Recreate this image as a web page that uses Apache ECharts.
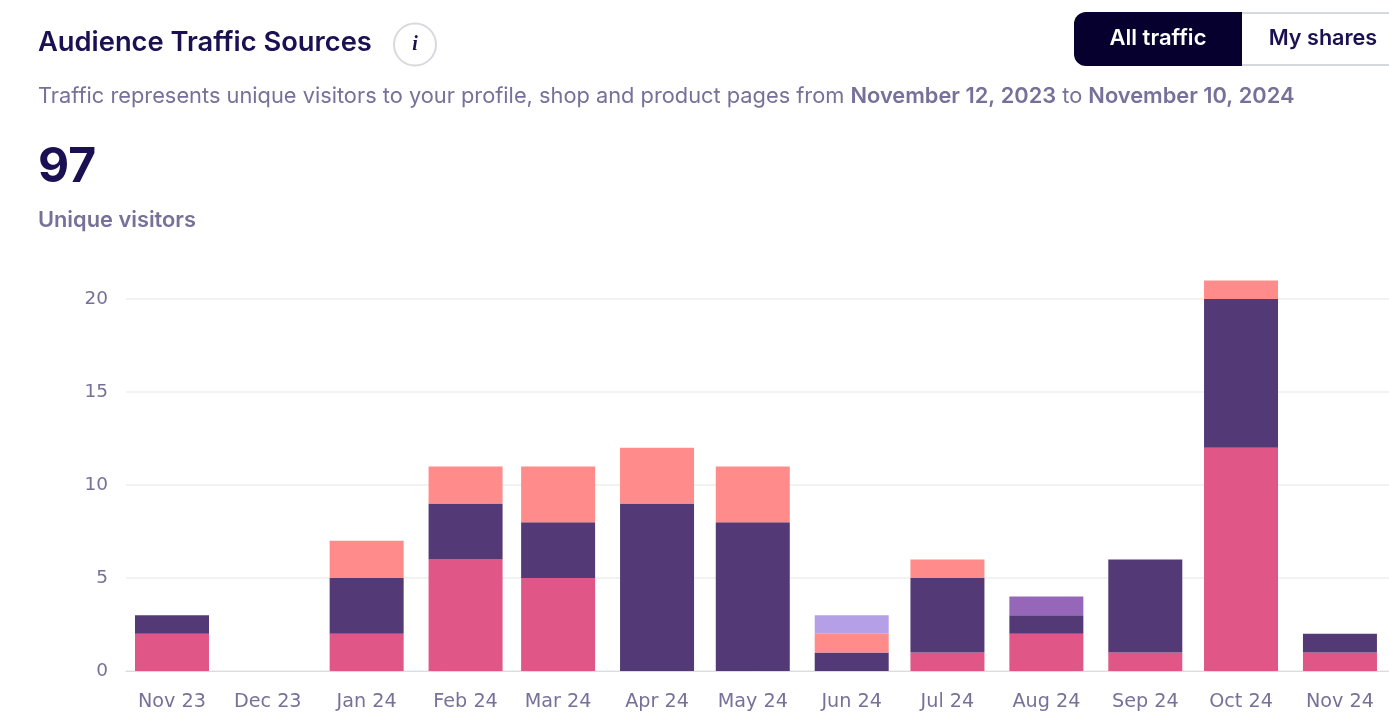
<!DOCTYPE html>
<html><head><meta charset="utf-8">
<script src="https://cdn.jsdelivr.net/npm/echarts@6/dist/echarts.min.js"></script>
<style>html,body{margin:0;padding:0;background:#fff;overflow:hidden}#c{width:1389px;height:720px}</style>
</head><body><div id="c"></div>
<script>
const months = ['2023-11-01','2023-12-01','2024-01-01','2024-02-01','2024-03-01','2024-04-01','2024-05-01','2024-06-01','2024-07-01','2024-08-01','2024-09-01','2024-10-01','2024-11-01'];
const monthLabels = ['Nov 23','Dec 23','Jan 24','Feb 24','Mar 24','Apr 24','May 24','Jun 24','Jul 24','Aug 24','Sep 24','Oct 24','Nov 24'];
const pinkValues   = [2,0,2,6,5,0,0,0,1,2,1,12,1];
const darkValues   = [1,0,3,3,3,9,8,1,4,1,5,8,1];
const salmonValues = [0,0,2,2,3,3,3,1,1,0,0,1,0];
const lilacValues  = [0,0,0,0,0,0,0,1,0,0,0,0,0];
const purpleValues = [0,0,0,0,0,0,0,0,0,1,0,0,0];
const axisStart = '2023-10-29T04:24:00Z';
const axisEnd = '2024-11-04T18:36:00Z';

const ts = s => new Date(s.length === 10 ? s + 'T00:00:00Z' : s).getTime();
const labelByTime = {};
months.forEach((m, i) => { labelByTime[ts(m)] = monthLabels[i]; });
const INK = '#1b1152', MUTED = '#77719a', UI = 'Inter, "Noto Sans", sans-serif', AX = '"DejaVu Sans", sans-serif';
const series = (name, values, color) => ({
  name, type: 'bar', stack: 'traffic', barWidth: 74,
  itemStyle: { color }, emphasis: { disabled: true },
  data: months.map((m, i) => [ts(m), values[i]])
});
const chart = echarts.init(document.getElementById('c'), null, { renderer: 'canvas' });
chart.setOption({
  animation: false,
  useUTC: true,
  backgroundColor: '#fff',
  title: {
    text: 'Audience Traffic Sources', left: 33, top: 22,
    textStyle: { fontFamily: UI, fontSize: 27.3, fontWeight: 600, color: INK, lineHeight: 32 }
  },
  grid: { left: 126, right: 0, top: 206, bottom: 49 },
  xAxis: {
    type: 'time', min: ts(axisStart), max: ts(axisEnd), splitNumber: 13,
    axisLine: { show: true, onZero: false, lineStyle: { color: '#dcdce0', width: 1 } },
    axisTick: { show: false },
    splitLine: { show: false },
    axisLabel: {
      formatter: v => labelByTime[v] || '',
      hideOverlap: false, showMinLabel: false, showMaxLabel: false, margin: 22,
      fontFamily: AX, fontSize: 19.2, color: MUTED
    }
  },
  yAxis: {
    type: 'value', min: 0, max: 25, interval: 5,
    axisLine: { show: false }, axisTick: { show: false },
    splitLine: { show: true, showMaxLine: false, lineStyle: { color: '#eeeeef', width: 1.5 } },
    axisLabel: { showMaxLabel: false, margin: 18, padding: [5, 0, 0, 0], fontFamily: AX, fontSize: 18.5, color: MUTED }
  },
  series: [
    series('Pink', pinkValues, '#e05787'),
    series('Dark', darkValues, '#533a76'),
    series('Salmon', salmonValues, '#ff8b8b'),
    series('Lilac', lilacValues, '#b5a0e8'),
    series('Purple', purpleValues, '#9667b9')
  ],
  graphic: [
    { type: 'circle', shape: { cx: 415, cy: 44.5, r: 21 }, style: { fill: '#fff', stroke: '#d8dade', lineWidth: 2 } },
    { type: 'text', x: 415, y: 45, style: { text: 'i', fill: INK, font: 'italic bold 20px "Liberation Serif", serif', align: 'center', verticalAlign: 'middle' } },
    { type: 'rect', shape: { x: 1240, y: 13, width: 160, height: 52 }, style: { fill: '#fff', stroke: '#d5d8df', lineWidth: 2 } },
    { type: 'rect', shape: { x: 1074, y: 12, width: 168, height: 54, r: [12, 0, 0, 12] }, style: { fill: '#05002e' } },
    { type: 'text', x: 1158, y: 38, style: { text: 'All traffic', fill: '#fff', font: '600 22px Inter, sans-serif', align: 'center', verticalAlign: 'middle' } },
    { type: 'text', x: 1323, y: 38, style: { text: 'My shares', fill: INK, font: '600 21.6px Inter, sans-serif', align: 'center', verticalAlign: 'middle' } },
    { type: 'text', x: 38, y: 96, style: {
        text: '{n|Traffic represents unique visitors to your profile, shop and product pages from }{b|November 12, 2023}{n| to }{b|November 10, 2024}',
        verticalAlign: 'middle',
        rich: {
          n: { fontFamily: UI, fontSize: 21.8, fontWeight: 400, fill: MUTED },
          b: { fontFamily: UI, fontSize: 21.8, fontWeight: 600, fill: MUTED }
        } } },
    { type: 'text', x: 38, y: 168, style: { text: '97', fill: INK, font: '700 48px Inter, sans-serif', verticalAlign: 'middle' } },
    { type: 'text', x: 38, y: 220, style: { text: 'Unique visitors', fill: MUTED, font: '600 21.8px Inter, sans-serif', verticalAlign: 'middle' } }
  ]
});
</script></body></html>
